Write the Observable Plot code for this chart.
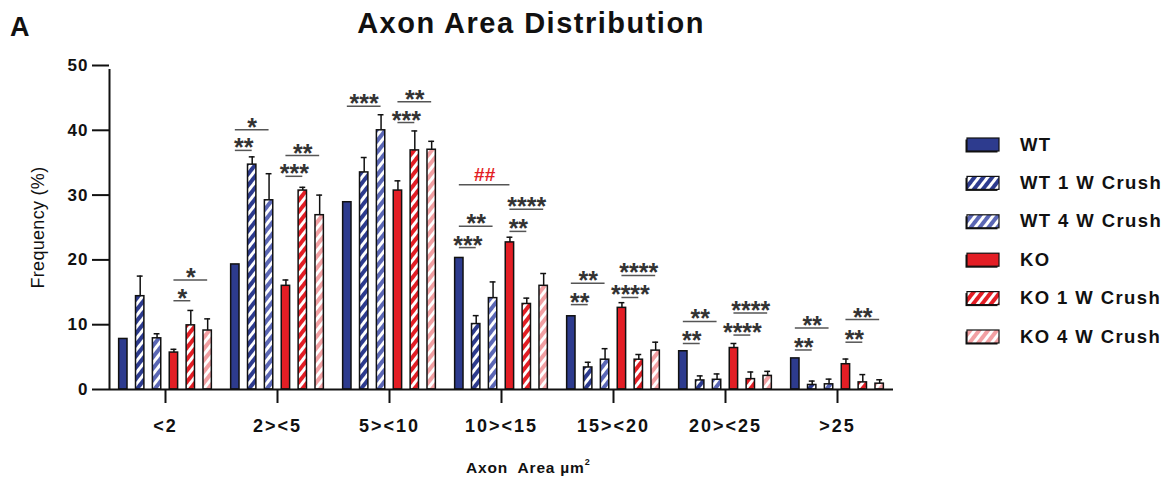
<!DOCTYPE html>
<html>
<head>
<meta charset="utf-8">
<script src="https://cdn.jsdelivr.net/npm/d3@7"></script>
<script src="https://cdn.jsdelivr.net/npm/@observablehq/plot@0.6"></script>
<style>
  body { margin: 0; background: white; }
  #wrap { position: relative; width: 1169px; height: 480px; font-family: "Liberation Sans", Arial, sans-serif; }
  #wrap > svg { position: absolute; left: 0; top: 0; }
  g[aria-label="y-axis tick label"] text { font-size: 17px; font-weight: bold; letter-spacing: 1px; fill: #111; }
  g[aria-label="fx-axis tick label"] text { font-size: 18px; font-weight: bold; letter-spacing: 2px; fill: #111; }
  g[aria-label="y-axis label"] text { font-size: 18px; fill: #111; letter-spacing: 0.3px; }
  g[aria-label="y-axis tick"], g[aria-label="y-axis tick"] *,
  g[aria-label="fx-axis tick"], g[aria-label="fx-axis tick"] * { stroke-width: 2px; stroke: #111; }
</style>
</head>
<body>
<div id="wrap"></div>
<script>
// ---- data ----
const groups = ["<2", "2><5", "5><10", "10><15", "15><20", "20><25", ">25"];
const series = ["WT", "WT 1 W Crush", "WT 4 W Crush", "KO", "KO 1 W Crush", "KO 4 W Crush"];
const yTicks = [0, 10, 20, 30, 40, 50];

const meanWT  = [7.8, 19.3, 28.9, 20.3, 11.3, 5.9, 4.8];
const errWT   = [0, 0, 0, 0, 0, 0, 0];
const meanWT1 = [14.4, 34.7, 33.5, 10.1, 3.4, 1.4, 0.7];
const errWT1  = [3.1, 1.2, 2.3, 1.3, 0.8, 0.7, 0.6];
const meanWT4 = [7.9, 29.2, 40.0, 14.1, 4.6, 1.5, 0.8];
const errWT4  = [0.7, 4.1, 2.4, 2.5, 1.7, 0.9, 0.8];
const meanKO  = [5.7, 16.0, 30.7, 22.7, 12.6, 6.4, 3.9];
const errKO   = [0.5, 0.9, 1.5, 0.8, 0.8, 0.7, 0.8];
const meanKO1 = [9.9, 30.7, 36.9, 13.2, 4.6, 1.6, 1.1];
const errKO1  = [2.3, 0.5, 3.0, 0.9, 0.8, 1.1, 1.2];
const meanKO4 = [9.1, 26.9, 37.0, 16.0, 6.0, 2.1, 0.9];
const errKO4  = [1.8, 3.1, 1.3, 1.9, 1.3, 0.7, 0.6];

// significance annotations
const annGroup = ["<2", "<2",
  "2><5", "2><5", "2><5", "2><5",
  "5><10", "5><10", "5><10",
  "10><15", "10><15", "10><15", "10><15", "10><15",
  "15><20", "15><20", "15><20", "15><20",
  "20><25", "20><25", "20><25", "20><25",
  ">25", ">25", ">25", ">25"];
const annFrom = ["KO", "KO",
  "WT", "WT", "KO", "KO",
  "WT", "KO", "KO",
  "WT", "WT", "WT", "KO", "KO",
  "WT", "WT", "KO", "KO",
  "WT", "WT", "KO", "KO",
  "WT", "WT", "KO", "KO"];
const annTo = ["KO 1 W Crush", "KO 4 W Crush",
  "WT 1 W Crush", "WT 4 W Crush", "KO 1 W Crush", "KO 4 W Crush",
  "WT 4 W Crush", "KO 1 W Crush", "KO 4 W Crush",
  "WT 1 W Crush", "WT 4 W Crush", "KO", "KO 1 W Crush", "KO 4 W Crush",
  "WT 1 W Crush", "WT 4 W Crush", "KO 1 W Crush", "KO 4 W Crush",
  "WT 1 W Crush", "WT 4 W Crush", "KO 1 W Crush", "KO 4 W Crush",
  "WT 1 W Crush", "WT 4 W Crush", "KO 1 W Crush", "KO 4 W Crush"];
const annY = [13.7, 16.9,
  36.9, 40.1, 32.9, 36.1,
  43.7, 41.2, 44.4,
  21.9, 25.2, 31.6, 24.4, 27.8,
  13.1, 16.4, 14.2, 17.6,
  7.1, 10.5, 8.4, 11.8,
  6.1, 9.5, 7.3, 10.8];
const annLabel = ["*", "*",
  "**", "*", "***", "**",
  "***", "***", "**",
  "***", "**", "##", "**", "****",
  "**", "**", "****", "****",
  "**", "**", "****", "****",
  "**", "**", "**", "**"];

// ---- styles ----
const baseColors = ["#2d3b8e", "#2d3b8e", "#5b67b5", "#e31e25", "#e31e25", "#f2a0a3"];
const hatched = [false, true, true, false, true, true];
const fills = series.map((s, i) => hatched[i] ? `url(#hatch${i})` : baseColors[i]);

// ---- derived tables ----
const means = [meanWT, meanWT1, meanWT4, meanKO, meanKO1, meanKO4];
const errs = [errWT, errWT1, errWT4, errKO, errKO1, errKO4];
const rows = groups.flatMap((g, gi) => series.map((s, si) => ({
  group: g, series: s, idx: si, mean: means[si][gi], err: errs[si][gi]
})));
const rowsErr = rows.filter(d => d.err > 0);
const ann = annGroup.map((g, i) => {
  const a = series.indexOf(annFrom[i]), b = series.indexOf(annTo[i]);
  return {group: g, x1: a + 0.5, x2: b + 0.5, xm: (a + b) / 2 + 0.5, y: annY[i], label: annLabel[i]};
});
const annStars = ann.filter(d => d.label.includes("*"));
const annHash = ann.filter(d => !d.label.includes("*"));
const xDomain = [-0.32, 6.32];

const wrap = d3.select("#wrap");

const chart = Plot.plot({
  width: 1169,
  height: 480,
  marginLeft: 106,
  marginRight: 273,
  marginTop: 65,
  marginBottom: 91,
  style: {fontFamily: "'Liberation Sans', Arial, sans-serif", background: "white", color: "#111"},
  fx: {domain: groups, padding: 0, tickSize: 14, tickPadding: 16, label: null},
  x: {domain: xDomain, axis: null},
  y: {domain: [0, 50], ticks: yTicks, tickSize: 17, tickPadding: 4, label: "Frequency (%)", labelArrow: "none", labelAnchor: "center", labelOffset: 78},
  color: {domain: series, range: fills},
  marks: [
    Plot.rectY(rows, {fx: "group", x1: "idx", x2: d => d.idx + 1, y1: 0, y2: "mean", fill: "series",
      stroke: "#111", strokeWidth: 1.5, insetLeft: 4.25, insetRight: 4.25}),
    Plot.ruleX(rowsErr, {fx: "group", x: d => d.idx + 0.5, y1: "mean", y2: d => d.mean + d.err, stroke: "#111", strokeWidth: 1.5}),
    Plot.ruleY(rowsErr, {fx: "group", x1: "idx", x2: d => d.idx + 1, y: d => d.mean + d.err, stroke: "#111", strokeWidth: 1.5, insetLeft: 5.5, insetRight: 5.5}),
    Plot.ruleY([0], {stroke: "#111", strokeWidth: 2}),
    Plot.ruleX([{g: groups[0]}], {fx: "g", x: () => xDomain[0], y1: 0, y2: 50, insetBottom: -4, stroke: "#111", strokeWidth: 2}),
    Plot.ruleY(ann, {fx: "group", x1: "x1", x2: "x2", y: "y", stroke: "#555", strokeWidth: 1.5}),
    Plot.text(annStars, {fx: "group", x: "xm", y: "y", text: "label", fill: "#333", fontSize: 25, fontWeight: "bold", lineAnchor: "bottom", dy: 6}),
    Plot.text(annHash, {fx: "group", x: "xm", y: "y", text: "label", fill: "#e31e25", fontSize: 19, fontWeight: "bold", lineAnchor: "bottom", dy: -4})
  ]
});
wrap.node().appendChild(chart);

const ov = wrap.append("svg").attr("width", 1169).attr("height", 480)
  .style("pointer-events", "none")
  .style("font-family", "'Liberation Sans', Arial, sans-serif");
const defs = ov.append("defs");
series.forEach((s, i) => {
  if (!hatched[i]) return;
  const p = defs.append("pattern").attr("id", `hatch${i}`).attr("patternUnits", "userSpaceOnUse")
    .attr("width", 7).attr("height", 7).attr("patternTransform", "rotate(38)");
  p.append("rect").attr("width", 7).attr("height", 7).attr("fill", "white");
  p.append("rect").attr("width", 4).attr("height", 7).attr("fill", baseColors[i]);
});

// panel letter and title
ov.append("text").attr("x", 10).attr("y", 36).attr("font-size", 27).attr("font-weight", "bold").attr("fill", "#111").text("A");
ov.append("text").attr("x", 531).attr("y", 33).attr("text-anchor", "middle").attr("font-size", 29)
  .attr("font-weight", "bold").attr("letter-spacing", "1.5px").attr("fill", "#111").text("Axon Area Distribution");

// x-axis title
const xt = ov.append("text").attr("x", 466).attr("y", 473).attr("font-size", 15.5).attr("font-weight", "bold")
  .attr("letter-spacing", "0.8px").attr("fill", "#111").attr("xml:space", "preserve").style("white-space", "pre");
xt.append("tspan").text("Axon  Area µm");
xt.append("tspan").attr("font-size", 9).attr("dy", -8).text("2");

// legend
const lg = ov.append("g");
series.forEach((s, i) => {
  const y0 = 138 + i * 38.4;
  lg.append("rect").attr("x", 965.5).attr("y", y0 + 1.5).attr("width", 32).attr("height", 13).attr("fill", "#111");
  lg.append("rect").attr("x", 967).attr("y", y0).attr("width", 32).attr("height", 13)
    .attr("fill", fills[i]).attr("stroke", "#111").attr("stroke-width", 1.2);
  lg.append("text").attr("x", 1020).attr("y", y0 + 12.5).attr("font-size", 18.5).attr("font-weight", "bold")
    .attr("letter-spacing", "1.4px").attr("fill", "#111").text(s);
});
</script>
</body>
</html>
